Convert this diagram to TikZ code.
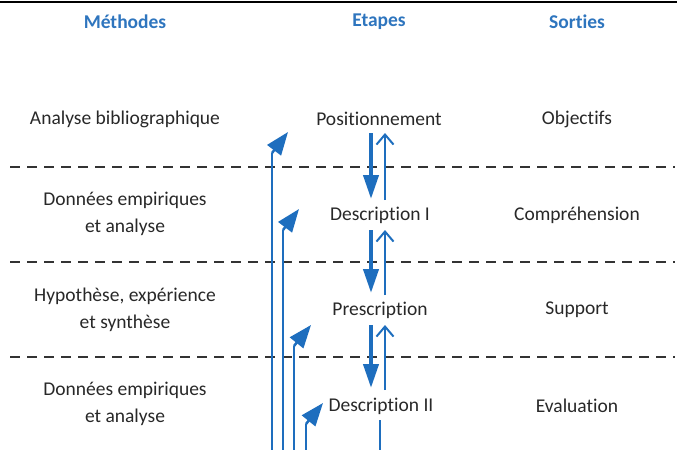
\documentclass[tikz,border=0pt]{standalone}
\usepackage{fontspec}
\setmainfont[RawFeature={-liga;-dlig}]{Carlito}
\usetikzlibrary{arrows.meta}
\definecolor{hblue}{RGB}{46,117,190}
\definecolor{ablue}{RGB}{30,110,190}
\definecolor{tgray}{RGB}{40,40,40}
\begin{document}
\begin{tikzpicture}[x=1pt,y=-1pt,
  lbl/.style={text=tgray,font=\fontsize{19.5}{27}\selectfont,align=center,inner sep=0pt},
  hdr/.style={text=hblue,font=\fontsize{19.5}{22}\selectfont\bfseries,inner sep=0pt},
  sep/.style={draw=black!80,line width=1.2pt,dash pattern=on 10pt off 7pt},
  down/.style={draw=ablue,line width=4pt,-{Triangle[width=15pt,length=24pt]}},
  up/.style={draw=ablue,line width=2pt,-{Straight Barb[width=17pt,length=10pt,line width=2pt]}},
  long/.style={draw=ablue,line width=2.5pt,-{Triangle[width=17pt,length=23pt]}}]
\useasboundingbox (0,0) rectangle (681,450);
\draw[black,line width=1.3pt] (0,2) -- (677,2);
% headers
\node[hdr] (h1) at (125,22) {Méthodes};
\node[hdr] (h2) at (379,22) {Etapes};
\node[hdr] (h3) at (577,22) {Sorties};
% separators
\coordinate (s1a) at (10,167); \coordinate (s1b) at (675,167);
\coordinate (s2a) at (10,262); \coordinate (s2b) at (675,262);
\coordinate (s3a) at (10,357); \coordinate (s3b) at (675,357);
\draw[sep] (s1a) -- (s1b);
\draw[sep] (s2a) -- (s2b);
\draw[sep] (s3a) -- (s3b);
% row 1
\node[lbl] (m1) at (125,119) {Analyse bibliographique};
\node[lbl] (e1) at (379,119) {Positionnement};
\node[lbl] (o1) at (577,119) {Objectifs};
% row 2
\node[lbl] (m2) at (125,214) {Données empiriques\\et analyse};
\node[lbl] (e2) at (380,215) {Description I};
\node[lbl] (o2) at (577,215) {Compréhension};
% row 3
\node[lbl] (m3) at (125,310) {Hypothèse, expérience\\et synthèse};
\node[lbl] (e3) at (380,310) {Prescription};
\node[lbl] (o3) at (577,310) {Support};
% row 4
\node[lbl] (m4) at (125,404) {Données empiriques\\et analyse};
\node[lbl] (e4) at (381,406) {Description II};
\node[lbl] (o4) at (577,406) {Evaluation};
% middle arrows
\coordinate (d1s) at (371,133); \coordinate (d1e) at (371,199);
\coordinate (u1s) at (385,200); \coordinate (u1e) at (385,133);
\coordinate (d2s) at (371,230); \coordinate (d2e) at (371,293);
\coordinate (u2s) at (385,295); \coordinate (u2e) at (385,230);
\coordinate (d3s) at (371,325); \coordinate (d3e) at (371,388);
\coordinate (u3s) at (385,390); \coordinate (u3e) at (385,325);
\draw[down] (d1s) -- (d1e);
\draw[up] (u1s) -- (u1e);
\draw[down] (d2s) -- (d2e);
\draw[up] (u2s) -- (u2e);
\draw[down] (d3s) -- (d3e);
\draw[up] (u3s) -- (u3e);
\coordinate (b1) at (380,420); \coordinate (b2) at (380,452);
\draw[ablue,line width=2pt] (b1) -- (b2);
% long arrows
\coordinate (l1a) at (272,452); \coordinate (l1b) at (272,153); \coordinate (l1c) at (288,132);
\coordinate (l2a) at (283,452); \coordinate (l2b) at (283,230); \coordinate (l2c) at (299,209);
\coordinate (l3a) at (294,452); \coordinate (l3b) at (294,346); \coordinate (l3c) at (311,325);
\coordinate (l4a) at (306,452); \coordinate (l4b) at (306,424); \coordinate (l4c) at (323,403);
\foreach \i in {1,2,3,4}{
  \draw[ablue,line width=2.5pt] (l\i a) -- (l\i b);
  \draw[long] (l\i b) -- (l\i c);
}
\end{tikzpicture}
\end{document}
